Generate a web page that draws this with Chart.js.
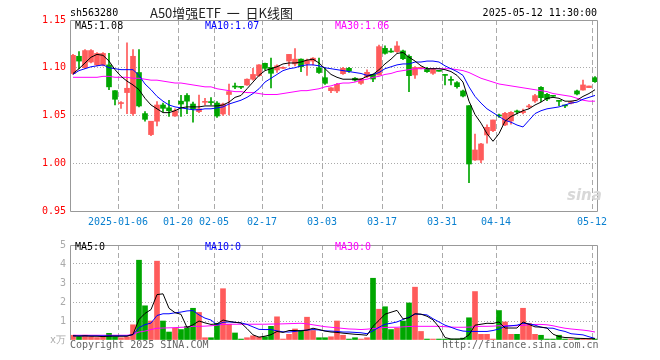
<!DOCTYPE html>
<html><head><meta charset="utf-8">
<script src="https://cdn.jsdelivr.net/npm/chart.js@4.4.1/dist/chart.umd.min.js"></script>
<style>
html,body{margin:0;padding:0;background:#fff;}
body{width:660px;height:360px;overflow:hidden;position:relative;}
canvas{position:absolute;left:0;}
.t{position:absolute;font-family:'DejaVu Sans Mono',monospace;font-size:10px;line-height:10px;white-space:pre;}
</style></head><body>
<canvas id="main" width="660" height="235" style="top:0;width:660px;height:235px"></canvas>
<canvas id="vol" width="660" height="125" style="top:235px;width:660px;height:125px"></canvas>
<div class="t" style="left:70px;top:8px;color:#000">sh563280</div>
<div class="t" style="left:150px;top:5px;font-family:'Noto Sans CJK SC',sans-serif;font-size:13px;line-height:15px;color:#222">A50增强ETF  一  日K线图</div>
<div class="t" style="right:63px;top:8px;color:#000">2025-05-12 11:30:00</div>
<div class="t" style="left:75px;top:21px;color:#000">MA5:1.08</div>
<div class="t" style="left:205px;top:21px;color:#0000ff">MA10:1.07</div>
<div class="t" style="left:335px;top:21px;color:#ff00ff">MA30:1.06</div>
<div class="t" style="left:75px;top:242px;color:#000">MA5:0</div>
<div class="t" style="left:205px;top:242px;color:#0000ff">MA10:0</div>
<div class="t" style="left:335px;top:242px;color:#ff00ff">MA30:0</div>
<div class="t" style="left:70px;top:340px;color:#666">Copyright 2025 SINA.COM</div>
<div class="t" style="left:442px;top:340px;color:#666">http://finance.sina.com.cn</div>
<div class="t" style="left:567px;top:188px;font-family:'DejaVu Sans',sans-serif;font-style:italic;font-weight:bold;font-size:15px;line-height:15px;color:#d8d8d8">sina</div>
<script>
const dates = ['2024-12-24','2024-12-25','2024-12-26','2024-12-27','2024-12-30','2024-12-31','2025-01-02','2025-01-03','2025-01-06','2025-01-07','2025-01-08','2025-01-09','2025-01-10','2025-01-13','2025-01-14','2025-01-15','2025-01-16','2025-01-17','2025-01-20','2025-01-21','2025-01-22','2025-01-23','2025-01-24','2025-01-27','2025-02-05','2025-02-06','2025-02-07','2025-02-10','2025-02-11','2025-02-12','2025-02-13','2025-02-14','2025-02-17','2025-02-18','2025-02-19','2025-02-20','2025-02-21','2025-02-24','2025-02-25','2025-02-26','2025-02-27','2025-02-28','2025-03-03','2025-03-04','2025-03-05','2025-03-06','2025-03-07','2025-03-10','2025-03-11','2025-03-12','2025-03-13','2025-03-14','2025-03-17','2025-03-18','2025-03-19','2025-03-20','2025-03-21','2025-03-24','2025-03-25','2025-03-26','2025-03-27','2025-03-28','2025-03-31','2025-04-01','2025-04-02','2025-04-03','2025-04-07','2025-04-08','2025-04-09','2025-04-10','2025-04-11','2025-04-14','2025-04-15','2025-04-16','2025-04-17','2025-04-18','2025-04-21','2025-04-22','2025-04-23','2025-04-24','2025-04-25','2025-04-28','2025-04-29','2025-05-06','2025-05-07','2025-05-08','2025-05-09','2025-05-12'];
const tickDates = ['2025-01-06','2025-01-20','2025-02-05','2025-02-17','2025-03-03','2025-03-17','2025-03-31','2025-04-14','2025-05-12'];
const tickText = ['2025-01-06','01-20','02-05','02-17','03-03','03-17','03-31','04-14','05-12'];

const openP = [1.094,1.112,1.100,1.106,1.103,1.103,1.103,1.076,1.0625,1.074,
1.052,1.095,1.052,1.030,1.044,1.061,1.058,1.0495,1.065,1.071,
1.062,1.054,1.0638,1.0642,1.063,1.0516,1.072,1.0805,1.0802,1.082,
1.088,1.0917,1.1046,1.1004,1.0977,1.0994,1.107,1.104,1.109,1.104,
1.107,1.100,1.0896,1.076,1.0757,1.0938,1.0994,1.089,1.0837,1.0907,
1.0931,1.0924,1.1203,1.117,1.1169,1.1176,1.112,1.0924,1.0994,1.0987,
1.0942,1.097,1.0928,1.0875,1.0844,1.0757,1.0603,1.0034,1.0034,1.0296,
1.0341,1.0502,1.0401,1.0443,1.0544,1.053,1.059,1.0652,1.0795,1.0722,
1.0708,1.0655,1.0607,1.0628,1.0757,1.0767,1.0792,1.0896];
const highP = [1.114,1.117,1.119,1.119,1.116,1.116,1.115,1.076,1.0645,1.126,
1.119,1.119,1.054,1.044,1.0645,1.063,1.066,1.057,1.071,1.073,
1.064,1.0715,1.068,1.0687,1.0645,1.063,1.083,1.084,1.0805,1.0885,
1.0994,1.1032,1.105,1.110,1.103,1.101,1.1141,1.120,1.1093,1.109,
1.1106,1.110,1.0994,1.0793,1.0837,1.1004,1.1004,1.0896,1.0889,1.0977,
1.0934,1.1238,1.123,1.120,1.1273,1.1186,1.1134,1.1011,1.1008,1.1004,
1.0994,1.097,1.0928,1.0907,1.0854,1.0767,1.0603,1.0306,1.0209,1.0401,
1.0453,1.0516,1.0533,1.054,1.0558,1.0568,1.0617,1.0722,1.0802,1.0732,
1.0708,1.0655,1.0607,1.0652,1.0767,1.0872,1.0809,1.0907];
const lowP = [1.093,1.099,1.099,1.105,1.102,1.102,1.077,1.061,1.0575,1.052,
1.050,1.059,1.044,1.029,1.039,1.054,1.049,1.049,1.049,1.052,
1.043,1.053,1.061,1.061,1.048,1.050,1.0505,1.078,1.078,1.0815,
1.087,1.091,1.0977,1.079,1.095,1.099,1.102,1.102,1.096,1.092,
1.103,1.094,1.0826,1.074,1.074,1.093,1.0952,1.086,1.0826,1.0896,
1.0854,1.0924,1.1141,1.116,1.116,1.1085,1.075,1.0889,1.0987,1.0952,
1.0931,1.0963,1.082,1.082,1.0785,1.0694,0.9797,1.003,1.0006,1.0209,
1.0331,1.0481,1.0394,1.0408,1.0516,1.0516,1.0575,1.0638,1.0645,1.0655,
1.0701,1.0603,1.0582,1.0621,1.0715,1.0764,1.0792,1.0847];
const closeP = [1.113,1.107,1.118,1.118,1.115,1.115,1.080,1.067,1.0632,1.0785,
1.112,1.060,1.046,1.044,1.061,1.0575,1.055,1.055,1.062,1.065,
1.057,1.057,1.0645,1.0635,1.0495,1.062,1.075,1.0798,1.0795,1.088,
1.093,1.103,1.0994,1.0942,1.102,1.1004,1.114,1.109,1.101,1.108,
1.110,1.095,1.0837,1.079,1.0826,1.0994,1.0966,1.087,1.0882,1.0952,
1.0882,1.1221,1.1151,1.1165,1.1228,1.1095,1.0917,1.1004,1.1001,1.0959,
1.0983,1.0963,1.092,1.0868,1.0802,1.0704,0.9992,1.0139,1.0202,1.0376,
1.0453,1.0495,1.0523,1.0533,1.0537,1.0544,1.0596,1.0708,1.0687,1.0673,
1.0701,1.0648,1.060,1.0645,1.0725,1.082,1.0809,1.0854];

const ma5 = [1.094,1.099,1.105,1.111,1.114,1.113,1.107,1.098,1.091,1.086,
1.082,1.077,1.068,1.061,1.057,1.053,1.053,1.055,1.058,1.059,
1.059,1.059,1.060,1.060,1.060,1.061,1.064,1.069,1.071,1.078,
1.085,1.092,1.097,1.099,1.101,1.104,1.105,1.105,1.106,1.108,
1.109,1.105,1.099,1.093,1.090,1.088,1.088,1.088,1.088,1.091,
1.093,1.098,1.104,1.109,1.115,1.116,1.111,1.107,1.102,1.099,
1.099,1.099,1.098,1.096,1.092,1.085,1.065,1.051,1.042,1.031,
1.023,1.031,1.044,1.049,1.052,1.055,1.057,1.061,1.064,1.068,
1.069,1.068,1.065,1.065,1.066,1.070,1.073,1.077];
const ma10 = [1.093,1.097,1.099,1.101,1.102,1.103,1.100,1.099,1.098,1.098,
1.098,1.092,1.083,1.077,1.070,1.065,1.061,1.059,1.058,1.057,
1.056,1.056,1.057,1.057,1.058,1.059,1.062,1.064,1.066,1.069,
1.073,1.078,1.085,1.089,1.093,1.097,1.099,1.100,1.102,1.103,
1.103,1.102,1.100,1.099,1.098,1.097,1.096,1.095,1.094,1.092,
1.093,1.095,1.099,1.101,1.103,1.104,1.104,1.106,1.106,1.107,
1.107,1.106,1.102,1.099,1.096,1.092,1.080,1.070,1.063,1.057,
1.053,1.049,1.045,1.043,1.040,1.038,1.045,1.052,1.055,1.057,
1.058,1.059,1.061,1.063,1.064,1.067,1.069,1.071];
const ma30 = [1.090,1.090,1.090,1.090,1.090,1.091,1.091,1.090,1.090,1.090,
1.089,1.089,1.088,1.087,1.087,1.086,1.085,1.084,1.084,1.083,
1.082,1.081,1.080,1.080,1.078,1.077,1.076,1.075,1.075,1.074,
1.074,1.073,1.072,1.072,1.072,1.073,1.074,1.075,1.076,1.076,
1.077,1.078,1.080,1.081,1.083,1.084,1.084,1.085,1.087,1.088,
1.090,1.091,1.093,1.094,1.096,1.097,1.098,1.099,1.099,1.099,
1.099,1.099,1.099,1.099,1.098,1.097,1.095,1.092,1.089,1.087,
1.085,1.083,1.082,1.081,1.080,1.079,1.078,1.077,1.076,1.075,
1.073,1.072,1.071,1.070,1.068,1.066,1.065,1.065];

const vol = [0.25,0.17,0.25,0.17,0.13,0.17,0.35,0.17,0.12,0.17,
0.8,4.2,1.8,1.0,4.15,1.0,0.42,0.62,0.55,0.72,
1.67,1.45,0.12,0.12,0.88,2.7,0.83,0.37,0.05,0.12,
0.22,0.15,0.17,0.72,1.22,0.05,0.3,0.58,0.5,1.2,
0.5,0.12,0.12,0.17,1.0,0.25,0.05,0.12,0.05,0.12,
3.25,1.62,1.75,0.55,0.62,1.0,1.95,2.78,0.45,0.05,
0.05,0.05,0.05,0.05,0.05,0.1,1.17,2.55,0.3,0.3,
0.05,1.55,0.95,0.3,0.3,1.67,0.88,0.3,0.25,0.05,
0.05,0.25,0.05,0.05,0.05,0.05,0.05,0.05];
const vma5 = [0.22,0.2,0.22,0.2,0.2,0.18,0.2,0.2,0.2,0.2,
0.3,1.08,1.4,1.6,2.39,2.43,1.67,1.44,1.35,0.66,
0.8,1.0,0.9,0.82,0.85,1.05,0.98,0.93,0.9,0.6,
0.27,0.15,0.2,0.28,0.45,0.4,0.5,0.5,0.48,0.52,
0.62,0.55,0.47,0.42,0.4,0.36,0.33,0.3,0.28,0.25,
0.72,1.03,1.36,1.46,1.56,1.11,1.17,1.38,1.36,1.25,
1.06,0.68,0.13,0.05,0.05,0.06,0.27,0.78,0.83,0.88,
0.87,0.95,0.63,0.63,0.63,0.95,0.82,0.69,0.68,0.63,
0.31,0.18,0.13,0.12,0.09,0.08,0.07,0.07];
const vma10 = [0.22,0.22,0.22,0.22,0.22,0.22,0.22,0.22,0.22,0.22,
0.28,0.65,0.81,0.89,1.29,1.38,1.38,1.43,1.47,1.53,
1.55,1.32,1.15,1.05,0.8,0.93,0.95,0.93,0.9,0.82,
0.69,0.56,0.55,0.55,0.48,0.43,0.42,0.45,0.5,0.52,
0.55,0.53,0.48,0.47,0.45,0.42,0.42,0.4,0.38,0.33,
0.48,0.67,0.83,0.88,0.95,1.08,1.2,1.37,1.35,1.32,
1.12,0.95,0.78,0.67,0.55,0.47,0.45,0.45,0.45,0.45,
0.5,0.58,0.72,0.75,0.78,0.88,0.85,0.78,0.67,0.63,
0.62,0.52,0.45,0.33,0.3,0.27,0.17,0.08];
const vma30 = [0.25,0.25,0.25,0.25,0.25,0.25,0.25,0.25,0.25,0.25,
0.3,0.42,0.47,0.55,0.62,0.63,0.64,0.65,0.67,0.68,
0.72,0.72,0.73,0.75,0.78,0.82,0.83,0.83,0.83,0.83,
0.83,0.83,0.83,0.84,0.84,0.85,0.86,0.87,0.88,0.85,
0.8,0.75,0.7,0.67,0.64,0.61,0.58,0.57,0.55,0.57,
0.6,0.63,0.66,0.67,0.67,0.69,0.71,0.72,0.72,0.72,
0.72,0.72,0.7,0.68,0.67,0.67,0.68,0.7,0.72,0.72,
0.73,0.75,0.75,0.75,0.75,0.77,0.8,0.82,0.82,0.8,
0.75,0.68,0.62,0.58,0.55,0.52,0.48,0.42];

const RED = '#ff5b5b', GREEN = '#00a600';
const candleColor = closeP.map((c, i) => c >= openP[i] ? RED : GREEN);
const tickMap = {};
tickDates.forEach((d, k) => { tickMap[d] = tickText[k]; });

Chart.defaults.font.family = "'DejaVu Sans Mono', monospace";
Chart.defaults.font.size = 10;

const framePlugin = {
  id: 'frame',
  afterDraw(chart, args, opts) {
    const ctx = chart.ctx, a = chart.chartArea;
    ctx.save();
    ctx.strokeStyle = '#999';
    ctx.lineWidth = 1;
    ctx.setLineDash([]);
    ctx.beginPath();
    if (opts.bottom) {
      ctx.rect(a.left + 0.5, a.top + 0.5, a.right - a.left - 1, a.bottom - a.top);
    } else {
      ctx.moveTo(a.left + 0.5, a.bottom);
      ctx.lineTo(a.left + 0.5, a.top + 0.5);
      ctx.lineTo(a.right - 0.5, a.top + 0.5);
      ctx.lineTo(a.right - 0.5, a.bottom);
    }
    ctx.stroke();
    ctx.restore();
  }
};

function lineDs(data, color) {
  return { type: 'line', data, borderColor: color, borderWidth: 1, pointRadius: 0, tension: 0, fill: false };
}
const xGridColor = ctx => tickMap[dates[ctx.index]] ? '#aaa' : 'rgba(0,0,0,0)';

new Chart(document.getElementById('main'), {
  type: 'bar',
  data: {
    labels: dates,
    datasets: [
      lineDs(ma5, '#000000'),
      lineDs(ma10, '#0000ff'),
      lineDs(ma30, '#ff00ff'),
      { type: 'bar', data: openP.map((o, i) => [o, closeP[i]]), backgroundColor: candleColor, barThickness: 5, minBarLength: 1, grouped: false },
      { type: 'bar', data: lowP.map((l, i) => [l, highP[i]]), backgroundColor: candleColor, barThickness: 1, grouped: false }
    ]
  },
  options: {
    responsive: false, animation: false, devicePixelRatio: 1,
    layout: { padding: { top: 20, right: 62, left: 0, bottom: 0 } },
    plugins: { legend: { display: false }, tooltip: { enabled: false }, frame: { bottom: true } },
    scales: {
      x: {
        offset: true,
        grid: { offset: true, drawTicks: false, color: xGridColor, lineWidth: 1 },
        border: { display: false, dash: [5, 3] },
        ticks: { autoSkip: false, maxRotation: 0, minRotation: 0, padding: 5, labelOffset: -3, color: '#0a80d0',
          callback: (v, i) => tickMap[dates[i]] || '' },
        afterFit: s => { s.height = 24; }
      },
      y: {
        min: 0.95, max: 1.15,
        ticks: { stepSize: 0.05, padding: 4, color: '#ff0000', callback: v => Number(v).toFixed(2) },
        grid: { drawTicks: false, color: ctx => (ctx.index === 0 || ctx.index === 4) ? 'rgba(0,0,0,0)' : '#aaa' },
        border: { display: false, dash: [1, 2] },
        afterFit: s => { s.width = 70; }
      }
    }
  },
  plugins: [framePlugin]
});

new Chart(document.getElementById('vol'), {
  type: 'bar',
  data: {
    labels: dates,
    datasets: [
      lineDs(vma5, '#000000'),
      lineDs(vma10, '#0000ff'),
      lineDs(vma30, '#ff00ff'),
      { type: 'bar', data: vol, backgroundColor: candleColor, barThickness: 5, grouped: false }
    ]
  },
  options: {
    responsive: false, animation: false, devicePixelRatio: 1,
    layout: { padding: { top: 5, right: 62, left: 0, bottom: 0 } },
    plugins: { legend: { display: false }, tooltip: { enabled: false }, frame: { bottom: false } },
    scales: {
      x: {
        offset: true,
        grid: { offset: true, drawTicks: false, color: xGridColor, lineWidth: 1 },
        border: { display: false, dash: [5, 3] },
        ticks: { display: false, autoSkip: false },
        afterFit: s => { s.height = 20; }
      },
      y: {
        min: 0, max: 5,
        ticks: { stepSize: 1, padding: 4, color: '#aaaaaa', callback: v => v === 0 ? 'x万' : String(v) },
        grid: { drawTicks: false, color: ctx => (ctx.index === 0 || ctx.index === 5) ? 'rgba(0,0,0,0)' : '#aaa' },
        border: { display: false, dash: [1, 2] },
        afterFit: s => { s.width = 70; }
      }
    }
  },
  plugins: [framePlugin]
});
</script>
</body></html>
